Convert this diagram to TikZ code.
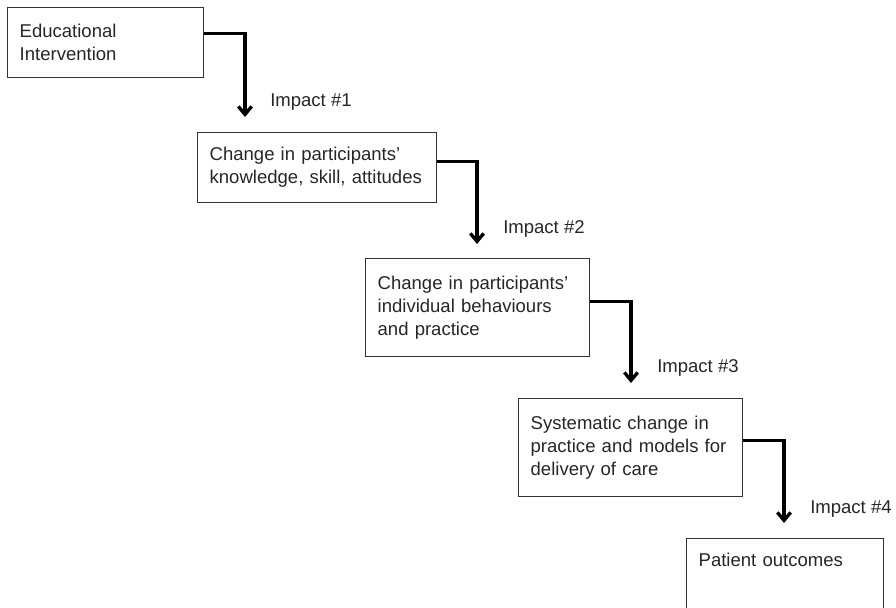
\documentclass[tikz,border=0pt]{standalone}
\usepackage{fontspec}
\setmainfont{Liberation Sans}
\usetikzlibrary{arrows.meta}

\begin{document}
\begin{tikzpicture}[x=0.75pt, y=-0.75pt,
    box/.style={draw=black!80,
                line width=1pt,
                anchor=north west,
                align=left,
                inner xsep=9pt,
                text=black!85,
                font=\fontsize{13.9}{17.2}\selectfont},
    impact/.style={anchor=base west,
                   inner sep=0pt,
                   text=black!85,
                   font=\fontsize{13.9}{17.2}\selectfont},
    conn/.style={line width=2.5pt,
                 line join=miter,
                 -{Straight Barb[length=6pt, width=10pt]}}]
    \useasboundingbox (0,0) rectangle (896,607);
    % Add the boxes
        \node[box,
              text width=129pt,
              minimum height=52.5pt] (b1) at (7,7) {Educational\\Intervention};
        \node[box,
              text width=161.25pt,
              minimum height=52.5pt] (b2) at (197,132) {Change in participants’\\knowledge, skill, attitudes};
        \node[box,
              text width=150pt,
              minimum height=73.5pt] (b3) at (365,258) {Change in participants’\\individual behaviours\\and practice};
        \node[box,
              text width=150pt,
              minimum height=73.5pt] (b4) at (518,398) {Systematic change in\\practice and models for\\delivery of care};
        \node[box,
              text width=129.75pt,
              inner ysep=11pt,
              text height=10pt,
              text depth=60pt] (b5) at (686,538) {Patient outcomes};

    % Arrow ends
        \coordinate (t1) at (245,117);
        \coordinate (t2) at (477,244);
        \coordinate (t3) at (631,383);
        \coordinate (t4) at (784,523);

    % Connectors
        \draw[conn] ([yshift=6.75pt]b1.east) -| (t1);
        \draw[conn] ([yshift=4.5pt]b2.east) -| (t2);
        \draw[conn] ([yshift=4.5pt]b3.east) -| (t3);
        \draw[conn] ([yshift=5.25pt]b4.east) -| (t4);

    % Impact labels
        \node[impact] (l1) at (270,106) {Impact \#1};
        \node[impact] (l2) at (503,233) {Impact \#2};
        \node[impact] (l3) at (657,372) {Impact \#3};
        \node[impact] (l4) at (810,513) {Impact \#4};
\end{tikzpicture}
\end{document}
